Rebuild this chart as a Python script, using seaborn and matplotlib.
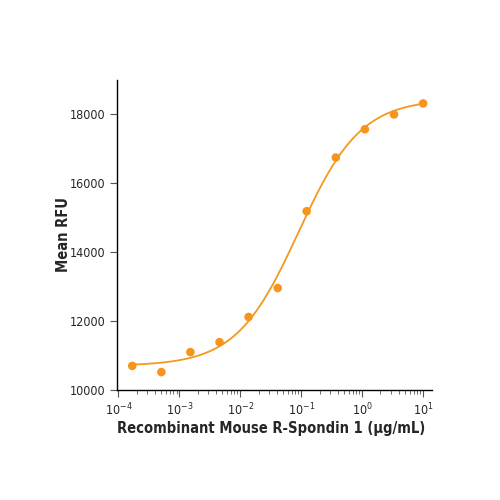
import numpy as np
import pandas as pd
import matplotlib
matplotlib.use("Agg")
import matplotlib.pyplot as plt
import matplotlib.ticker as mticker
from matplotlib import font_manager
import seaborn as sns

# measured points (3-fold dilutions)
conc = [0.000169, 0.000508, 0.00152, 0.00457, 0.0137, 0.0412, 0.123, 0.370, 1.11, 3.33, 10.0]
rfu = [10700, 10520, 11100, 11390, 12120, 12960, 15190, 16750, 17570, 18000, 18320]

# 4PL fit parameters
bottom = 10700
top = 18450
ec50 = 0.09
hill = 0.85

sns.set_style("white")
names = {f.name for f in font_manager.fontManager.ttflist}
fams = [n for n in ["Liberation Sans Narrow", "DejaVu Sans"] if n in names]
plt.rcParams["font.family"] = fams
plt.rcParams["font.stretch"] = "condensed"

df = pd.DataFrame({"conc": conc, "rfu": rfu})
xs = np.logspace(np.log10(conc[0]), np.log10(conc[-1]), 300)
fit = pd.DataFrame({"conc": xs, "rfu": bottom + (top - bottom) / (1 + (ec50 / xs) ** hill)})

fig = plt.figure(figsize=(5, 5), dpi=100)
ax = fig.add_axes([0.234, 0.22, 0.63, 0.62])

sns.lineplot(data=fit, x="conc", y="rfu", color="#F39A1E", linewidth=1.3, ax=ax)
sns.scatterplot(data=df, x="conc", y="rfu", color="#F7941D", s=38, edgecolor="none", ax=ax, zorder=3)

ax.set_xscale("log")
ax.set_xlim(0.95e-4, 14)
ax.set_ylim(10000, 19000)
ax.set_yticks([10000, 12000, 14000, 16000, 18000])
ax.xaxis.set_major_locator(mticker.LogLocator(base=10, numticks=10))
ax.xaxis.set_minor_locator(mticker.LogLocator(base=10, subs=np.arange(2, 10), numticks=10))
ax.xaxis.set_minor_formatter(mticker.NullFormatter())

for s in ["top", "right"]:
    ax.spines[s].set_visible(False)
for s in ["left", "bottom"]:
    ax.spines[s].set_color("black")
    ax.spines[s].set_linewidth(1.0)

ax.tick_params(axis="both", which="major", direction="out", length=5, width=0.8,
               color="#555555", labelsize=9, bottom=True, left=True)
ax.tick_params(axis="x", which="minor", direction="out", length=3, width=0.6,
               color="#555555", bottom=True)

ax.set_xlabel("Recombinant Mouse R-Spondin 1 (µg/mL)", fontsize=10.5, fontweight="bold")
ax.set_ylabel("Mean RFU", fontsize=10.5, fontweight="bold")
ax.xaxis.set_label_coords(0.49, -0.10)
ax.yaxis.set_label_coords(-0.145, 0.5)

fig.savefig("out.png", dpi=100)
